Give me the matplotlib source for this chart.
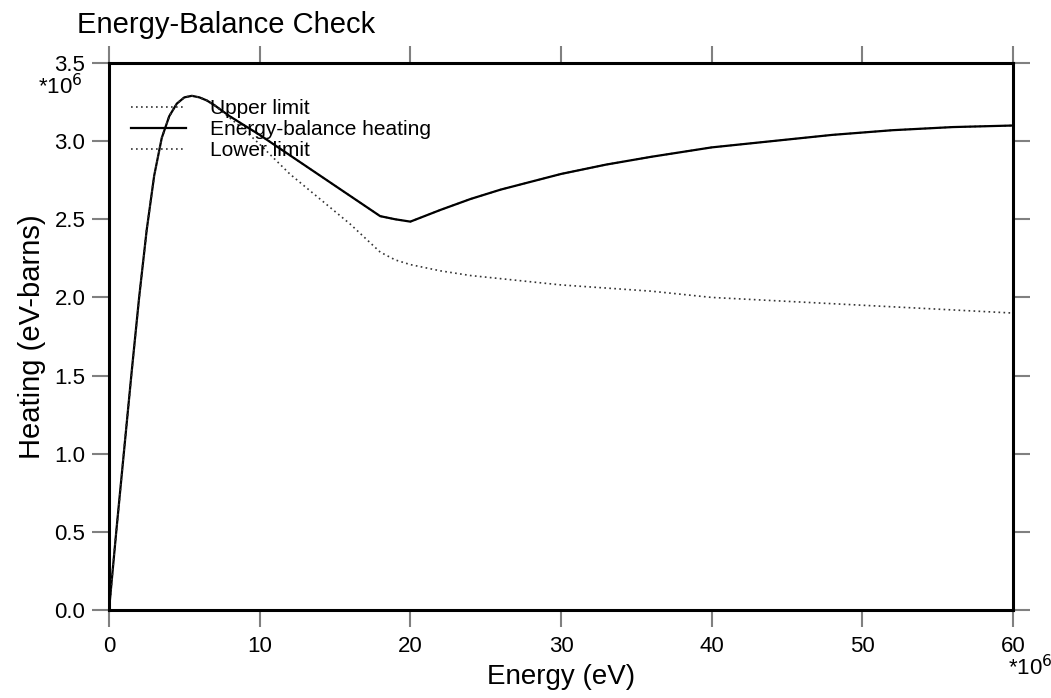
import matplotlib
matplotlib.use("Agg")
import matplotlib.pyplot as plt

plt.rcParams['font.family'] = ['Liberation Sans', 'DejaVu Sans']

# energies in MeV (units of 1e6 eV), heating in 1e6 eV-barns
energy = [0, 0.5, 1, 1.5, 2, 2.5, 3, 3.5, 4, 4.5, 5, 5.5, 6, 6.5, 7, 8, 9, 10, 12, 14,
          16, 18, 19, 20, 22, 24, 26, 28, 30, 33, 36, 40, 44, 48, 52, 56, 60]
balance = [0, 0.52, 1.02, 1.52, 2.0, 2.43, 2.78, 3.02, 3.16, 3.24, 3.28, 3.29, 3.28,
           3.26, 3.23, 3.16, 3.10, 3.04, 2.91, 2.78, 2.65, 2.52, 2.50, 2.485, 2.56,
           2.63, 2.69, 2.74, 2.79, 2.85, 2.90, 2.96, 3.00, 3.04, 3.07, 3.09, 3.10]
upper = list(balance)
lower = [0, 0.52, 1.02, 1.52, 2.0, 2.43, 2.78, 3.02, 3.16, 3.24, 3.28, 3.29, 3.28,
         3.26, 3.23, 3.15, 3.07, 2.98, 2.79, 2.63, 2.47, 2.29, 2.24, 2.21, 2.17,
         2.14, 2.12, 2.10, 2.08, 2.06, 2.04, 2.00, 1.98, 1.96, 1.94, 1.92, 1.90]

fig = plt.figure(figsize=(10.51, 6.98), dpi=100)
ax = fig.add_axes([109/1051, 1 - 610/698, 904/1051, 547/698])

ax.plot(energy, upper, color='#333333', lw=1.2, ls=(0, (1, 2)), label='Upper limit')
ax.plot(energy, balance, color='black', lw=1.6, label='Energy-balance heating')
ax.plot(energy, lower, color='#333333', lw=1.2, ls=(0, (1, 2)), label='Lower limit')

ax.set_xlim(0, 60)
ax.set_ylim(0, 3.5)
ax.set_xticks([0, 10, 20, 30, 40, 50, 60])
ax.set_yticks([0.0, 0.5, 1.0, 1.5, 2.0, 2.5, 3.0, 3.5])
ax.set_yticklabels(['%.1f' % v for v in ax.get_yticks()])

ax.tick_params(direction='out', length=12, width=1.5, color='#808080',
               labelsize=16, pad=5, top=True, right=True)
ax.tick_params(axis='x', top=True, labeltop=False, pad=7)
ax.tick_params(axis='y', right=True, labelright=False)
for s in ax.spines.values():
    s.set_linewidth(2.2)
    s.set_color('black')

ax.set_xlabel('Energy (eV)', fontsize=20)
ax.xaxis.set_label_coords(0.5, -0.098)
ax.set_ylabel('Heating (eV-barns)', fontsize=21, labelpad=6)
fig.text(77/1051, 1 - 25/698, 'Energy-Balance Check', fontsize=21, va='center', ha='left')

fig.text(60/1051, 1 - 87/698, r'*10$^6$', fontsize=16, ha='center', va='center')
fig.text(1030/1051, 1 - 668/698, r'*10$^6$', fontsize=16, ha='center', va='center')

ax.legend(loc='upper left', bbox_to_anchor=(0.024, 0.934), frameon=False,
          fontsize=15, handlelength=2.65, handletextpad=1.15, labelspacing=0.1,
          borderaxespad=0, borderpad=0)

fig.savefig('out.png', dpi=100)
